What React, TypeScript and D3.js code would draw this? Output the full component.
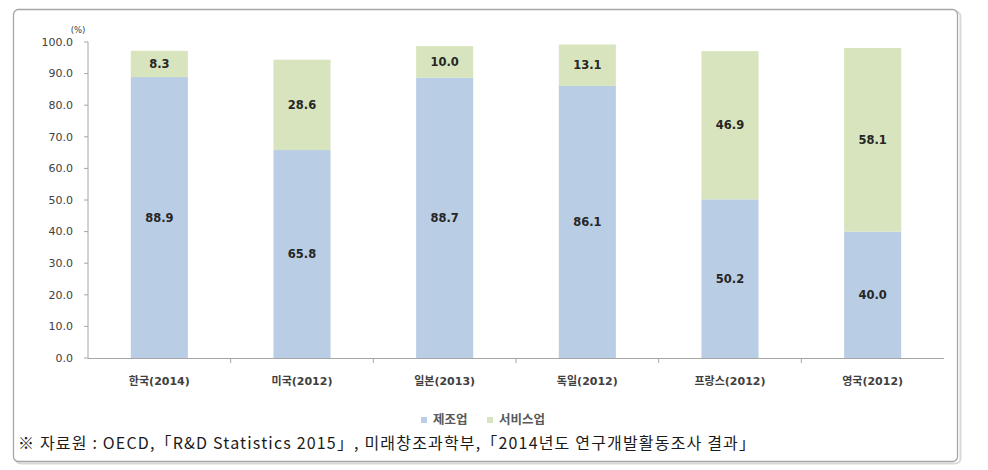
import React from "react";
import * as d3 from "d3";

const categories = ["한국(2014)", "미국(2012)", "일본(2013)", "독일(2012)", "프랑스(2012)", "영국(2012)"];
const manufacturing = [88.9, 65.8, 88.7, 86.1, 50.2, 40.0];
const services = [8.3, 28.6, 10.0, 13.1, 46.9, 58.1];
const seriesNames = ["제조업", "서비스업"];
const yTicks = [0, 10, 20, 30, 40, 50, 60, 70, 80, 90, 100];
const footer = "※ 자료원 : OECD,「R&D Statistics 2015」, 미래창조과학부,「2014년도 연구개발활동조사 결과」";

const W = 988;
const H = 470;
const colors = ["#b9cde5", "#d7e4bd"];
const numFont = "'DejaVu Sans', 'Noto Sans CJK KR', sans-serif";

export default function App() {
  const x = d3.scaleBand<string>().domain(categories).range([88, 944]).paddingInner(0).paddingOuter(0);
  const y = d3.scaleLinear().domain([0, 100]).range([358, 42]);
  const bw = x.bandwidth() * 0.4;

  const rows = categories.map((c, i) => ({ c, m: manufacturing[i], s: services[i] }));

  return (
    <div style={{ position: "absolute", left: 0, top: 0 }}>
      <svg width={W} height={H} style={{ display: "block" }}>
        <rect x={0} y={0} width={W} height={H} fill="#ffffff" />
        {/* shadow */}
        <rect x={15.5} y={11.5} width={945} height={452} rx={5} fill="none" stroke="#d9d9d9" strokeWidth={2} />
        <rect x={13.5} y={9.5} width={944} height={452} rx={5} fill="#ffffff" stroke="#a6a6a6" strokeWidth={1.3} />

        {/* y axis */}
        <line x1={88} x2={88} y1={y(100)} y2={y(0)} stroke="#a6a6a6" strokeWidth={1} />
        {yTicks.map((t) => (
          <g key={t}>
            <line x1={84} x2={88} y1={y(t)} y2={y(t)} stroke="#a6a6a6" />
            <text x={73} y={y(t)} dy="0.35em" textAnchor="end" fontFamily={numFont} fontSize={11} fill="#404040">
              {t.toFixed(1)}
            </text>
          </g>
        ))}
        <text x={78} y={33} textAnchor="middle" fontFamily={numFont} fontSize={8.5} fill="#404040">(%)</text>

        {/* bars */}
        {rows.map((r) => {
          const cx = (x(r.c) as number) + x.bandwidth() / 2;
          const x0 = cx - bw / 2;
          return (
            <g key={r.c}>
              <rect x={x0} y={y(r.m)} width={bw} height={y(0) - y(r.m)} fill={colors[0]} />
              <rect x={x0} y={y(r.m + r.s)} width={bw} height={y(r.m) - y(r.m + r.s)} fill={colors[1]} />
              <text x={cx} y={(y(0) + y(r.m)) / 2} dy="0.35em" textAnchor="middle" fontFamily={numFont} fontWeight="bold" fontSize={11.5} fill="#262626">
                {r.m.toFixed(1)}
              </text>
              <text x={cx} y={(y(r.m) + y(r.m + r.s)) / 2} dy="0.35em" textAnchor="middle" fontFamily={numFont} fontWeight="bold" fontSize={11.5} fill="#262626">
                {r.s.toFixed(1)}
              </text>
              <text x={cx} y={381} dy="0.35em" textAnchor="middle" fontFamily={numFont} fontWeight="bold" fontSize={11} fill="#404040">
                {r.c}
              </text>
            </g>
          );
        })}

        {/* x axis */}
        <line x1={88} x2={944} y1={358.5} y2={358.5} stroke="#a6a6a6" strokeWidth={1} />
        {categories.map((c, i) => (
          <line key={c} x1={(x(c) as number) + x.bandwidth()} x2={(x(c) as number) + x.bandwidth()} y1={358} y2={363} stroke="#a6a6a6" opacity={i === categories.length - 1 ? 0 : 1} />
        ))}

        {/* legend */}
        <rect x={421} y={417} width={6} height={6} fill={colors[0]} />
        <text x={433} y={420} dy="0.35em" fontFamily={numFont} fontWeight="bold" fontSize={12.5} fill="#595959">{seriesNames[0]}</text>
        <rect x={487} y={417} width={6} height={6} fill={colors[1]} />
        <text x={499} y={420} dy="0.35em" fontFamily={numFont} fontWeight="bold" fontSize={12.5} fill="#595959">{seriesNames[1]}</text>

        {/* footer */}
        <text x={18} y={449} fontFamily="'Noto Sans CJK KR', sans-serif" fontSize={16} fill="#1a1a1a" textLength={737} lengthAdjust="spacing">
          {footer}
        </text>
      </svg>
    </div>
  );
}
